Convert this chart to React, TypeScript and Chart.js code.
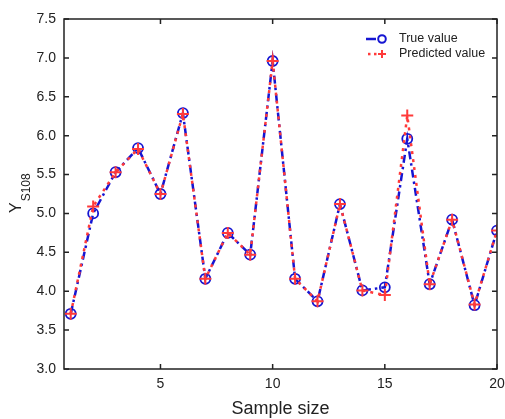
import React, { useEffect, useRef } from "react";
import { Chart, registerables } from "chart.js";

Chart.register(...registerables);

const SAMPLES = [1, 2, 3, 4, 5, 6, 7, 8, 9, 10, 11, 12, 13, 14, 15, 16, 17, 18, 19, 20];
const TRUE_VALUES = [3.71, 5.0, 5.53, 5.84, 5.25, 6.29, 4.16, 4.75, 4.47, 6.96, 4.16, 3.87, 5.12, 4.01, 4.05, 5.96, 4.09, 4.92, 3.82, 4.78];
const PREDICTED_VALUES = [3.71, 5.09, 5.53, 5.83, 5.25, 6.28, 4.16, 4.75, 4.47, 6.96, 4.16, 3.87, 5.12, 4.01, 3.95, 6.26, 4.09, 4.92, 3.83, 4.78];
const X_TICKS = [5, 10, 15, 20];
const Y_TICKS = [3.0, 3.5, 4.0, 4.5, 5.0, 5.5, 6.0, 6.5, 7.0, 7.5];
const SERIES_NAMES = ["True value", "Predicted value"];
const X_TITLE = "Sample size";
const Y_TITLE_MAIN = "Y";
const Y_TITLE_SUB = "S108";

const BLUE = "#1515d2";
const RED = "#ff3a3a";
const INK = "#222222";
const FONT = "'Liberation Sans', Arial, sans-serif";

const decorPlugin = {
  id: "decor",
  afterDraw(chart: any) {
    const { ctx, chartArea } = chart;
    const { left, right, top, bottom } = chartArea;
    const xs = chart.scales.x;
    const ys = chart.scales.y;
    ctx.save();
    ctx.strokeStyle = INK;
    ctx.lineWidth = 1.5;
    ctx.setLineDash([]);
    ctx.strokeRect(left, top, right - left, bottom - top);
    const tl = 5;
    ctx.beginPath();
    X_TICKS.forEach((v) => {
      const px = xs.getPixelForValue(v);
      ctx.moveTo(px, bottom);
      ctx.lineTo(px, bottom - tl);
      ctx.moveTo(px, top);
      ctx.lineTo(px, top + tl);
    });
    Y_TICKS.forEach((v) => {
      const py = ys.getPixelForValue(v);
      ctx.moveTo(left, py);
      ctx.lineTo(left + tl, py);
      ctx.moveTo(right, py);
      ctx.lineTo(right - tl, py);
    });
    ctx.stroke();

    // x title
    ctx.fillStyle = INK;
    ctx.font = `18px ${FONT}`;
    ctx.textAlign = "center";
    ctx.textBaseline = "middle";
    ctx.fillText(X_TITLE, (left + right) / 2, 409);

    // y title with subscript
    ctx.save();
    ctx.translate(21, 213);
    ctx.rotate(-Math.PI / 2);
    ctx.textAlign = "left";
    ctx.textBaseline = "alphabetic";
    ctx.font = `16px ${FONT}`;
    ctx.fillText(Y_TITLE_MAIN, 0, 0);
    const w = ctx.measureText(Y_TITLE_MAIN).width;
    ctx.font = `12px ${FONT}`;
    ctx.fillText(Y_TITLE_SUB, w + 1, 9);
    ctx.restore();

    // legend
    const lx = 366;
    const ly1 = 39;
    const ly2 = 54;
    ctx.lineWidth = 2.5;
    ctx.strokeStyle = BLUE;
    ctx.beginPath();
    ctx.moveTo(lx, ly1);
    ctx.lineTo(lx + 10, ly1);
    ctx.stroke();
    ctx.lineWidth = 2;
    ctx.beginPath();
    ctx.arc(lx + 16, ly1, 3.8, 0, Math.PI * 2);
    ctx.stroke();
    ctx.fillStyle = RED;
    ctx.fillRect(lx + 2, ly2 - 1.2, 2.5, 2.5);
    ctx.fillRect(lx + 8, ly2 - 1.2, 2.5, 2.5);
    ctx.strokeStyle = RED;
    ctx.beginPath();
    ctx.moveTo(lx + 16 - 4, ly2);
    ctx.lineTo(lx + 16 + 4, ly2);
    ctx.moveTo(lx + 16, ly2 - 4);
    ctx.lineTo(lx + 16, ly2 + 4);
    ctx.stroke();
    ctx.fillStyle = INK;
    ctx.font = `12.5px ${FONT}`;
    ctx.textAlign = "left";
    ctx.textBaseline = "middle";
    ctx.fillText(SERIES_NAMES[0], 399, ly1);
    ctx.fillText(SERIES_NAMES[1], 399, ly2);
    ctx.restore();
  },
};

export default function App() {
  const ref = useRef<HTMLCanvasElement | null>(null);
  useEffect(() => {
    if (!ref.current) return;
    const chart = new Chart(ref.current, {
      type: "line",
      data: {
        datasets: [
          {
            label: SERIES_NAMES[1],
            data: SAMPLES.map((x, i) => ({ x, y: PREDICTED_VALUES[i] })),
            borderColor: RED,
            borderWidth: 2.5,
            borderDash: [3, 5],
            pointStyle: "cross",
            pointRadius: 6,
            pointBorderWidth: 2,
            pointBorderColor: RED,
            pointBackgroundColor: RED,
            tension: 0,
            order: 0,
          },
          {
            label: SERIES_NAMES[0],
            data: SAMPLES.map((x, i) => ({ x, y: TRUE_VALUES[i] })),
            borderColor: BLUE,
            borderWidth: 2.5,
            borderDash: [8, 4, 2.5, 4],
            pointStyle: "circle",
            pointRadius: 5,
            pointBorderWidth: 1.8,
            pointBorderColor: BLUE,
            pointBackgroundColor: "rgba(0,0,0,0)",
            tension: 0,
            order: 1,
          },
        ],
      },
      options: {
        responsive: false,
        animation: false,
        devicePixelRatio: 1,
        layout: { padding: { top: 19, right: 7, left: 0, bottom: 0 } },
        plugins: { legend: { display: false }, tooltip: { enabled: false } },
        scales: {
          x: {
            type: "linear",
            min: 0.7,
            max: 20,
            afterBuildTicks: (s: any) => {
              s.ticks = X_TICKS.map((v) => ({ value: v }));
            },
            afterFit: (s: any) => {
              s.height = 50;
              s.paddingRight = 0;
              s.paddingLeft = 0;
            },
            grid: { display: false, drawTicks: false },
            border: { display: false },
            ticks: {
              padding: 7,
              color: INK,
              font: { family: FONT, size: 14 },
              maxRotation: 0,
            },
          },
          y: {
            type: "linear",
            min: 3,
            max: 7.5,
            afterBuildTicks: (s: any) => {
              s.ticks = Y_TICKS.map((v) => ({ value: v }));
            },
            afterFit: (s: any) => {
              s.width = 64;
            },
            grid: { display: false, drawTicks: false },
            border: { display: false },
            ticks: {
              padding: 8,
              color: INK,
              font: { family: FONT, size: 14 },
              callback: (v: any) => Number(v).toFixed(1),
            },
          },
        },
      },
      plugins: [decorPlugin],
    } as any);
    return () => chart.destroy();
  }, []);
  return (
    <div style={{ position: "fixed", left: 0, top: 0, width: 505, height: 419, background: "#fff" }}>
      <canvas ref={ref} width={505} height={419} />
    </div>
  );
}
